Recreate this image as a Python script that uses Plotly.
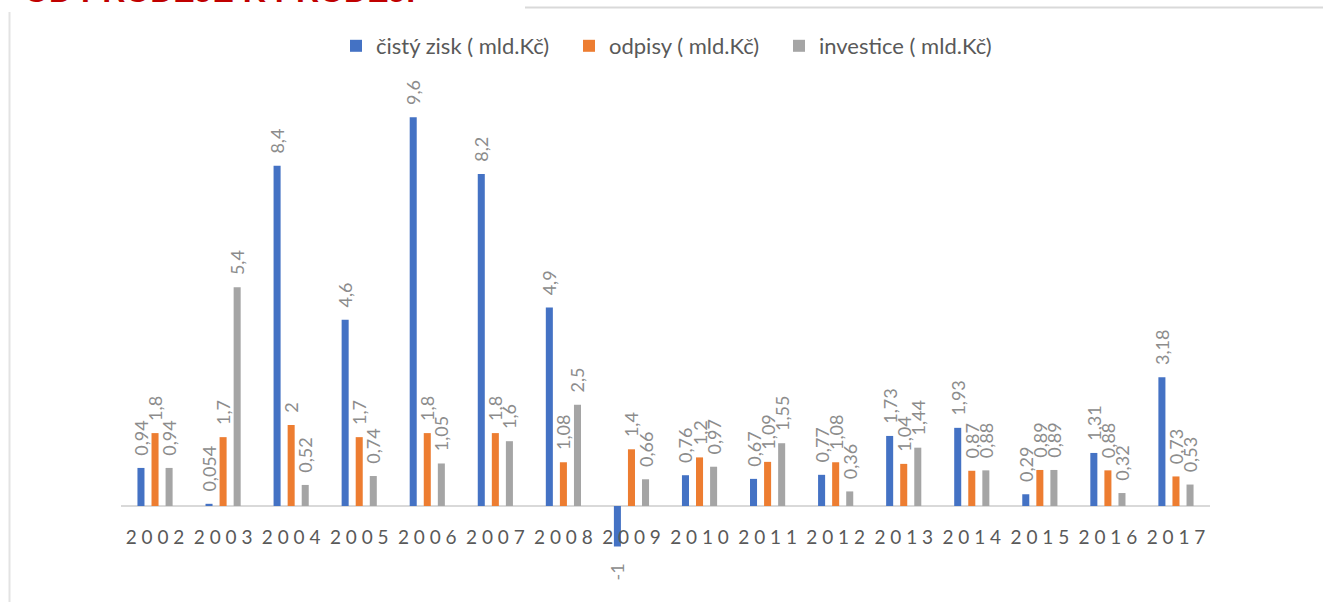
import plotly.graph_objects as go

years = ["2002", "2003", "2004", "2005", "2006", "2007", "2008", "2009",
         "2010", "2011", "2012", "2013", "2014", "2015", "2016", "2017"]
cisty_zisk = [0.94, 0.054, 8.4, 4.6, 9.6, 8.2, 4.9, -1, 0.76, 0.67, 0.77, 1.73, 1.93, 0.29, 1.31, 3.18]
odpisy = [1.8, 1.7, 2, 1.7, 1.8, 1.8, 1.08, 1.4, 1.2, 1.09, 1.08, 1.04, 0.87, 0.89, 0.88, 0.73]
investice = [0.94, 5.4, 0.52, 0.74, 1.05, 1.6, 2.5, 0.66, 0.97, 1.55, 0.36, 1.44, 0.88, 0.89, 0.32, 0.53]
series_names = ["čistý zisk ( mld.Kč)", "odpisy ( mld.Kč)", "investice ( mld.Kč)"]
series_colors = ["#4472C4", "#ED7D31", "#A5A5A5"]
tick_labels = [" ".join(y) for y in years]

W, H = 1323, 602
ML, MR, MT, MB = 121, 113, 70, 40
PW, PH = W - ML - MR, H - MT - MB
ZERO_PX = 506
PX_PER_UNIT = 40.5
y_min = -(H - MB - ZERO_PX) / PX_PER_UNIT
y_max = (ZERO_PX - MT) / PX_PER_UNIT

def px_x(px):
    return (px - ML) / PW

def px_y(py):
    return (H - MB - py) / PH

NB = "\u00a0"

def fmt(v):
    s = f"{v:g}".replace(".", ",")
    return (NB * 2 + s) if v >= 0 else (s + NB * 3)

fig = go.Figure()
legend_ids = ["legend", "legend2", "legend3"]
for name, vals, col, lid in zip(series_names, [cisty_zisk, odpisy, investice], series_colors, legend_ids):
    fig.add_trace(go.Bar(
        x=years, y=vals, name=name, marker=dict(color=col, line=dict(width=0)),
        text=[fmt(v) for v in vals], textposition="outside", textangle=-90,
        constraintext="none", cliponaxis=False,
        textfont=dict(family="Lato, sans-serif", size=18, color="#8C8C8C"),
        legend=lid,
    ))

legend_x_px = [336, 569, 779]
common_legend = dict(orientation="h", xref="container", yref="container",
                     xanchor="left", yanchor="middle", y=1 - 46 / H,
                     font=dict(family="Lato, sans-serif", size=22, color="#595959"),
                     bgcolor="rgba(0,0,0,0)", itemwidth=30, tracegroupgap=0)

fig.update_layout(
    width=W, height=H,
    margin=dict(l=ML, r=MR, t=MT, b=MB, autoexpand=False),
    plot_bgcolor="white", paper_bgcolor="white",
    barmode="group", bargap=0.38, bargroupgap=0.5,
    showlegend=True,
    legend=dict(x=legend_x_px[0] / W, **common_legend),
    legend2=dict(x=legend_x_px[1] / W, **common_legend),
    legend3=dict(x=legend_x_px[2] / W, **common_legend),
    xaxis=dict(type="category", tickmode="array", tickvals=years, ticktext=tick_labels,
               anchor="free", position=px_y(ZERO_PX), showline=False, showgrid=False,
               zeroline=False, ticks="", ticklabelstandoff=18,
               tickfont=dict(family="Lato, sans-serif", size=19, color="#595959")),
    yaxis=dict(range=[y_min, y_max], showticklabels=False, showgrid=False,
               zeroline=True, zerolinecolor="#D9D9D9", zerolinewidth=2, showline=False),
    shapes=[
        dict(type="line", xref="paper", yref="paper", x0=px_x(525), x1=px_x(W), y0=px_y(7.5), y1=px_y(7.5),
             line=dict(color="#D9D9D9", width=2)),
        dict(type="line", xref="paper", yref="paper", x0=px_x(9.5), x1=px_x(9.5), y0=px_y(12), y1=px_y(H),
             line=dict(color="#E3E3E3", width=2)),
    ],
    annotations=[
        dict(text="<b>OD PRODEJE K PRODEJI</b>", xref="paper", yref="paper",
             x=px_x(22), y=px_y(11), xanchor="left", yanchor="bottom", showarrow=False,
             font=dict(family="Liberation Sans, Arial, sans-serif", size=32, color="#C00000")),
    ],
)

fig.write_html("out.html", config={"displayModeBar": False},
               post_script="document.body.style.margin='0';document.body.style.overflow='hidden';")
